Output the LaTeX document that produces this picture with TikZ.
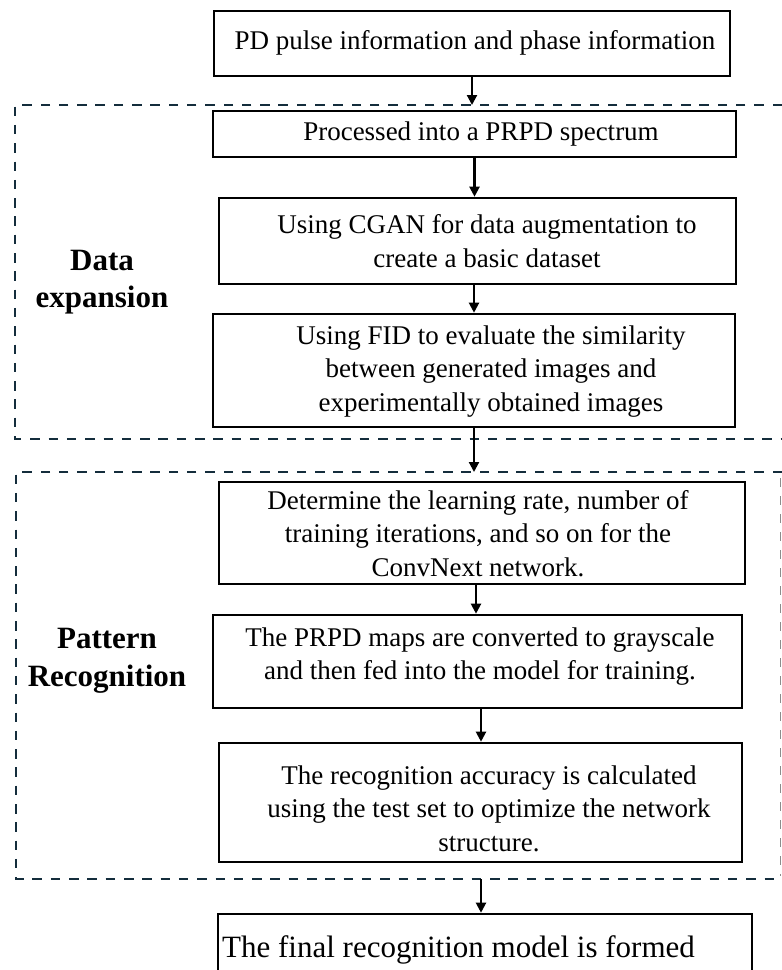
\documentclass[tikz,border=0pt]{standalone}
\usepackage{fontspec}
\setmainfont{Liberation Serif}
\usetikzlibrary{arrows.meta}
\definecolor{framecol}{RGB}{20,45,60}
\tikzset{
  box/.style={draw=black, line width=2.6pt, inner sep=0pt, fill=white},
  txt/.style={inner sep=0pt, align=center, font=\fontsize{27}{33.5}\selectfont},
  lab/.style={inner sep=0pt, align=center, font=\bfseries\fontsize{31}{37.5}\selectfont},
  arr/.style={line width=2.1pt, -{Triangle[length=10pt,width=10pt]}},
  frame/.style={draw=framecol, line width=2.8pt, dash pattern=on 9.5pt off 8.8pt},
  frameedge/.style={draw=black!45, line width=1.3pt, dash pattern=on 9pt off 9pt}
}
\begin{document}
\begin{tikzpicture}[x=1pt,y=-1pt]
\useasboundingbox (0,0) rectangle (782,970);
\clip (0,0) rectangle (782,970);
\fill[white] (0,0) rectangle (782,970);

% dashed stage frames
\draw[frame] (782,105) -- (15,105) -- (15,439) -- (782,439);
\draw[frame] (782,472) -- (16,472) -- (16,879) -- (782,879);
\draw[frameedge] (780.5,478) -- (780.5,876);
\coordinate (d1top) at (471,105);
\coordinate (d2top) at (474,472);
\coordinate (d2bot) at (481,879);

% stage labels
\node[lab] (lde) at (102,282) {Data\\expansion};
\node[lab] (lpr) at (107,661) {Pattern\\Recognition};

% process boxes
\node[box, minimum width=516, minimum height=65]  (b1) at (472,43.5) {};
\node[box, minimum width=523, minimum height=46]  (b2) at (474.5,134) {};
\node[box, minimum width=517, minimum height=86]  (b3) at (477.5,241) {};
\node[box, minimum width=522, minimum height=113] (b4) at (474,370.5) {};
\node[box, minimum width=526, minimum height=102] (b5) at (482,533) {};
\node[box, minimum width=529, minimum height=93]  (b6) at (477.5,661.5) {};
\node[box, minimum width=523, minimum height=119] (b7) at (480.5,802.5) {};
\node[box, minimum width=534, minimum height=96]  (b8) at (485,962) {};

% box texts
\node[txt] (t1) at (475,43) {PD pulse information and phase information};
\node[txt] (t2) at (481,134) {Processed into a PRPD spectrum};
\node[txt] (t3) at (487,241) {Using CGAN for data augmentation to\\create a basic dataset};
\node[txt] (t4) at (491,371.5) {Using FID to evaluate the similarity\\between generated images and\\experimentally obtained images};
\node[txt] (t5) at (478,533.5) {Determine the learning rate, number of\\training iterations, and so on for the\\ConvNext network.};
\node[txt] (t6) at (480,656.5) {The PRPD maps are converted to grayscale\\and then fed into the model for training.};
\node[txt] (t7) at (489,808.5) {The recognition accuracy is calculated\\using the test set to optimize the network\\structure.};
\node[txt, anchor=base west, font=\fontsize{31}{37}\selectfont] (t8) at (222,957) {The final recognition model is formed};

% connectors
\draw[arr] (b1.south) -- (b1.south |- d1top);
\draw[arr] (b2.south) -- (b2.south |- b3.north);
\draw[arr] ([xshift=-3.5]b3.south) -- ([xshift=-3.5]b3.south |- b4.north);
\draw[arr] (b4.south) -- (b4.south |- d2top);
\draw[arr] ([xshift=-6]b5.south) -- ([xshift=-6]b5.south |- b6.north);
\draw[arr] ([xshift=3.5]b6.south) -- ([xshift=3.5]b6.south |- b7.north);
\draw[arr] (d2bot) -- (d2bot |- b8.north);
\end{tikzpicture}
\end{document}
